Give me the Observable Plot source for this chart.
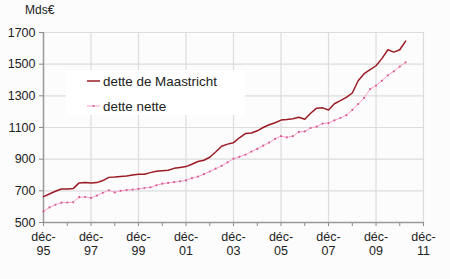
<!DOCTYPE html>
<html><head><meta charset="utf-8">
<script src="https://cdn.jsdelivr.net/npm/d3@7"></script>
<script src="https://cdn.jsdelivr.net/npm/@observablehq/plot@0.6"></script>
<style>
html,body{margin:0;padding:0;background:#fcfcfc;}
#wrap{position:relative;width:450px;height:279px;font-family:"Liberation Sans",Arial,sans-serif;color:#222;}
#unit{position:absolute;left:25px;top:3px;font-size:12px;line-height:14px;}
#legend{position:absolute;left:66px;top:70px;width:179px;height:45px;background:#fff;}
#legend .item{position:absolute;left:21px;height:16px;line-height:16px;font-size:13.4px;white-space:nowrap;}
#legend svg{vertical-align:middle;margin-right:3px;position:relative;top:-1px;}
</style></head><body>
<div id="wrap"></div>
<script>
const quarters = ["1995-12",
"1996-03","1996-06","1996-09","1996-12",
"1997-03","1997-06","1997-09","1997-12",
"1998-03","1998-06","1998-09","1998-12",
"1999-03","1999-06","1999-09","1999-12",
"2000-03","2000-06","2000-09","2000-12",
"2001-03","2001-06","2001-09","2001-12",
"2002-03","2002-06","2002-09","2002-12",
"2003-03","2003-06","2003-09","2003-12",
"2004-03","2004-06","2004-09","2004-12",
"2005-03","2005-06","2005-09","2005-12",
"2006-03","2006-06","2006-09","2006-12",
"2007-03","2007-06","2007-09","2007-12",
"2008-03","2008-06","2008-09","2008-12",
"2009-03","2009-06","2009-09","2009-12",
"2010-03","2010-06","2010-09","2010-12",
"2011-03"];
const detteMaastricht = [663,
680,697,712,712,
714,750,753,750,
752,765,785,787,
791,793,800,805,
805,815,823,827,
830,842,848,853,
868,885,893,912,
945,982,995,1004,
1035,1062,1065,1079,
1100,1117,1130,1147,
1150,1155,1165,1152,
1190,1222,1224,1211,
1250,1270,1290,1318,
1395,1440,1465,1490,
1535,1591,1576,1591,
1646];
const detteNette = [570,
595,612,625,626,
628,660,661,655,
670,688,703,690,
700,705,708,712,
718,722,735,745,
750,755,760,766,
780,790,805,822,
840,858,880,903,
915,928,948,965,
985,1005,1028,1045,
1038,1045,1072,1075,
1097,1105,1125,1128,
1145,1160,1178,1211,
1248,1287,1343,1365,
1395,1430,1455,1485,
1511];
const seriesNames = ["dette de Maastricht","dette nette"];
const seriesColors = ["#9b1b25","#ff9fd0"];
const unitLabel = "Mds€";
const yTicks = [500,700,900,1100,1300,1500,1700];
const xTicks = ["1995-12","1996-12","1997-12","1998-12","1999-12","2000-12","2001-12","2002-12","2003-12","2004-12","2005-12","2006-12","2007-12","2008-12","2009-12","2010-12","2011-12"];
const xTickLabels = ["déc-95","","déc-97","","déc-99","","déc-01","","déc-03","","déc-05","","déc-07","","déc-09","","déc-11"];

const parse = d3.utcParse("%Y-%m");
const rows = quarters.map((q,i)=>({date:parse(q), m:detteMaastricht[i], n:detteNette[i]}));
const tickDates = xTicks.map(parse);
const labelOf = new Map(tickDates.map((d,i)=>[+d, xTickLabels[i]]));
const gridDates = tickDates.filter((d,i)=>i>0 && xTickLabels[i]!=="");

const chart = Plot.plot({
  width:450, height:279,
  marginLeft:43, marginRight:27, marginTop:32, marginBottom:57,
  style:{background:"transparent", fontFamily:"Liberation Sans, Arial, sans-serif", fontSize:"12.5px", color:"#222", overflow:"visible"},
  x:{type:"utc", domain:[tickDates[0], tickDates[tickDates.length-1]]},
  y:{domain:[500,1700]},
  marks:[
    Plot.ruleY(yTicks.slice(1), {stroke:"#dcdcdc", strokeWidth:1.2}),
    Plot.ruleX(gridDates, {stroke:"#dcdcdc", strokeWidth:1.2}),
    Plot.axisY({ticks:yTicks, tickSize:4, tickPadding:4, label:null, stroke:"#888", tickFormat:d=>String(d)}),
    Plot.axisX({ticks:tickDates, tickSize:4, tickPadding:4, label:null, stroke:"#888", lineHeight:1.15,
      tickFormat:d=>{const l=labelOf.get(+d); return l ? l.replace("-","-\n") : "";}}),
    Plot.ruleY([500], {stroke:"#999", strokeWidth:1.5}),
    Plot.ruleX([tickDates[0]], {stroke:"#999", strokeWidth:1.5}),
    Plot.line(rows, {x:"date", y:"n", stroke:seriesColors[1], strokeWidth:1}),
    Plot.dot(rows, {x:"date", y:"n", r:1.1, fill:"#d0608f"}),
    Plot.line(rows, {x:"date", y:"m", stroke:seriesColors[0], strokeWidth:1.5})
  ]
});
const wrap = document.getElementById("wrap");
wrap.appendChild(chart);
const unit = document.createElement("div");
unit.id = "unit"; unit.textContent = unitLabel;
wrap.appendChild(unit);
const legend = document.createElement("div");
legend.id = "legend";
const sampleRed = `<svg width="13" height="6"><line x1="0" y1="3" x2="13" y2="3" stroke="${seriesColors[0]}" stroke-width="1.5"/></svg>`;
const samplePink = `<svg width="13" height="6"><line x1="0" y1="3" x2="13" y2="3" stroke="${seriesColors[1]}" stroke-width="1"/><circle cx="6.5" cy="3" r="1.1" fill="#d0608f"/></svg>`;
legend.innerHTML = `<div class="item" style="top:4px">${sampleRed}${seriesNames[0]}</div><div class="item" style="top:29px">${samplePink}${seriesNames[1]}</div>`;
wrap.appendChild(legend);
</script>
</body></html>
